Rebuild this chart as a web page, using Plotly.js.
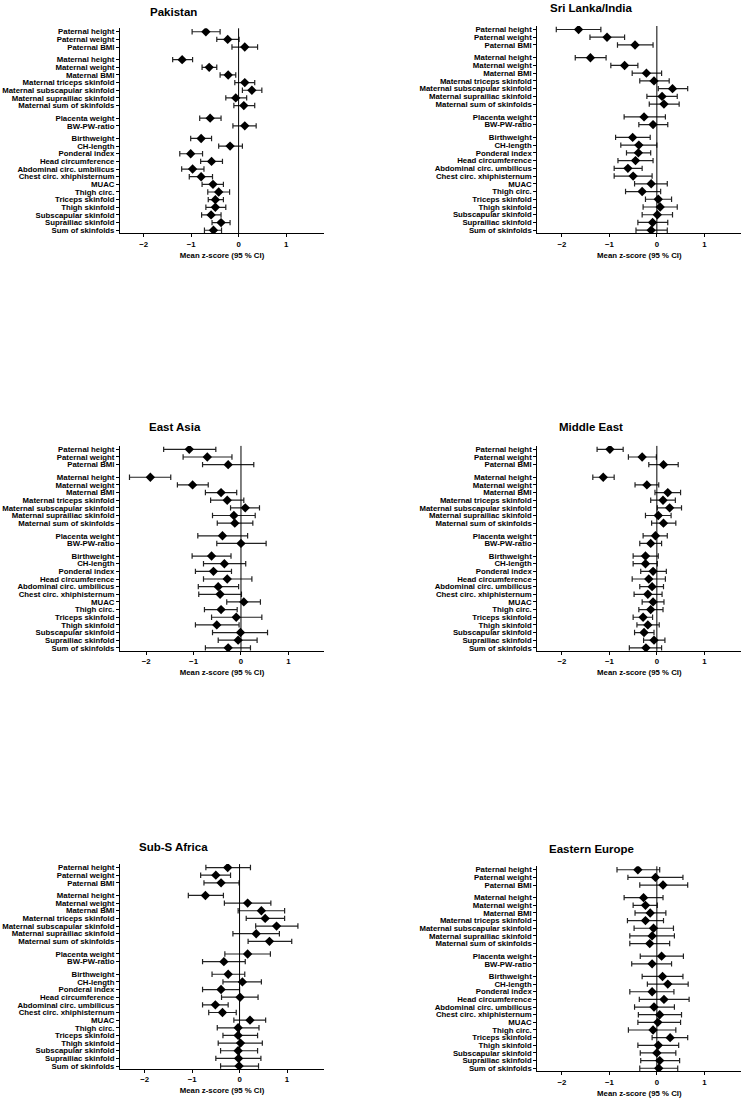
<!DOCTYPE html>
<html><head><meta charset="utf-8">
<script src="https://cdn.plot.ly/plotly-3.0.1.min.js"></script>
<style>html,body{margin:0;padding:0;background:#fff}#chart{width:748px;height:1101px}</style>
</head><body><div id="chart"></div>
<script>
const labels = ["Paternal height","Paternal weight","Paternal BMI",
  "Maternal height","Maternal weight","Maternal BMI","Maternal triceps skinfold","Maternal subscapular skinfold","Maternal suprailiac skinfold","Maternal sum of skinfolds",
  "Placenta weight","BW-PW-ratio",
  "Birthweight","CH-length","Ponderal index","Head circumference","Abdominal circ. umbilicus","Chest circ. xhiphisternum","MUAC","Thigh circ.","Triceps skinfold","Thigh skinfold","Subscapular skinfold","Suprailiac skinfold","Sum of skinfolds"];
const groupSizes = [3,7,2,13];
const xTicks = [-2,-1,0,1];
const xTitle = "Mean z-score (95 % CI)";

const regions = ["Pakistan","Sri Lanka/India","East Asia","Middle East","Sub-S Africa","Eastern Europe"];

const pakistanMean = [-0.69,-0.23,0.13, -1.19,-0.62,-0.22,0.13,0.28,-0.06,0.11, -0.60,0.13, -0.79,-0.18,-1.01,-0.57,-0.97,-0.79,-0.54,-0.42,-0.49,-0.49,-0.58,-0.37,-0.53];
const pakistanLow  = [-0.98,-0.46,-0.14, -1.39,-0.77,-0.39,-0.08,0.08,-0.27,-0.10, -0.82,-0.12, -1.01,-0.42,-1.24,-0.80,-1.20,-1.04,-0.77,-0.65,-0.64,-0.69,-0.78,-0.56,-0.72];
const pakistanHigh = [-0.39,0.01,0.40, -0.97,-0.46,-0.06,0.34,0.49,0.17,0.34, -0.37,0.37, -0.57,0.08,-0.76,-0.34,-0.73,-0.55,-0.32,-0.19,-0.32,-0.27,-0.37,-0.18,-0.36];

const sriLankaMean = [-1.65,-1.05,-0.46, -1.40,-0.68,-0.22,-0.06,0.33,0.11,0.15, -0.27,-0.08, -0.51,-0.38,-0.39,-0.45,-0.61,-0.50,-0.12,-0.31,0.03,0.07,0.01,-0.09,-0.12];
const sriLankaLow  = [-2.12,-1.41,-0.83, -1.72,-0.97,-0.52,-0.36,0.03,-0.21,-0.16, -0.69,-0.38, -0.87,-0.76,-0.64,-0.82,-0.90,-0.90,-0.47,-0.66,-0.24,-0.29,-0.31,-0.40,-0.44];
const sriLankaHigh = [-1.18,-0.68,-0.08, -1.07,-0.40,0.10,0.26,0.65,0.43,0.47, 0.18,0.23, -0.14,0.00,-0.13,-0.08,-0.31,-0.10,0.22,0.08,0.31,0.43,0.33,0.23,0.22];

const eastAsiaMean = [-1.09,-0.71,-0.27, -1.91,-1.02,-0.42,-0.29,0.09,-0.15,-0.13, -0.39,0.00, -0.62,-0.35,-0.58,-0.29,-0.48,-0.44,0.06,-0.42,-0.10,-0.51,-0.01,-0.06,-0.27];
const eastAsiaLow  = [-1.63,-1.22,-0.81, -2.35,-1.34,-0.75,-0.64,-0.22,-0.60,-0.50, -0.91,-0.51, -1.03,-0.79,-0.96,-0.79,-0.90,-0.89,-0.30,-0.77,-0.62,-0.96,-0.60,-0.48,-0.75];
const eastAsiaHigh = [-0.53,-0.19,0.27, -1.48,-0.69,-0.09,0.06,0.39,0.30,0.25, 0.14,0.53, -0.21,0.10,-0.20,0.23,-0.05,0.01,0.41,-0.08,0.44,-0.04,0.56,0.34,0.20];

const middleEastMean = [-0.99,-0.31,0.14, -1.13,-0.21,0.23,0.13,0.27,0.03,0.14, -0.03,-0.13, -0.24,-0.24,-0.08,-0.17,-0.10,-0.19,-0.08,-0.13,-0.29,-0.19,-0.27,-0.06,-0.23];
const middleEastLow  = [-1.26,-0.60,-0.17, -1.35,-0.46,-0.04,-0.13,0.01,-0.24,-0.11, -0.29,-0.36, -0.50,-0.50,-0.34,-0.52,-0.36,-0.48,-0.31,-0.38,-0.50,-0.42,-0.47,-0.28,-0.58];
const middleEastHigh = [-0.71,-0.01,0.45, -0.90,0.04,0.50,0.39,0.52,0.30,0.40, 0.22,0.10, 0.03,0.01,0.20,0.18,0.14,0.11,0.15,0.13,-0.09,0.05,-0.06,0.17,0.10];

const subSaharanMean = [-0.25,-0.50,-0.39, -0.72,0.17,0.46,0.54,0.78,0.35,0.63, 0.17,-0.33, -0.24,0.06,-0.39,0.01,-0.51,-0.36,0.22,-0.03,-0.03,0.02,-0.03,-0.02,-0.01];
const subSaharanLow  = [-0.71,-0.82,-0.75, -1.08,-0.32,-0.03,0.14,0.34,-0.14,0.18, -0.31,-0.78, -0.58,-0.35,-0.78,-0.38,-0.78,-0.65,-0.12,-0.47,-0.35,-0.45,-0.40,-0.50,-0.40];
const subSaharanHigh = [0.23,-0.19,-0.01, -0.34,0.66,0.95,0.95,1.23,0.84,1.10, 0.65,0.12, 0.11,0.46,0.00,0.39,-0.24,-0.07,0.55,0.41,0.38,0.48,0.38,0.45,0.40];

const easternEuropeMean = [-0.40,-0.03,0.13, -0.28,-0.24,-0.14,-0.24,-0.07,-0.10,-0.15, 0.10,-0.10, 0.12,0.23,-0.10,0.15,-0.06,0.06,0.02,-0.08,0.28,0.03,0.00,0.06,0.04];
const easternEuropeLow  = [-0.84,-0.61,-0.36, -0.69,-0.50,-0.46,-0.62,-0.48,-0.57,-0.57, -0.35,-0.53, -0.31,-0.20,-0.57,-0.37,-0.47,-0.39,-0.40,-0.60,-0.10,-0.40,-0.35,-0.34,-0.36];
const easternEuropeHigh = [0.06,0.55,0.65, 0.13,0.01,0.19,0.14,0.35,0.37,0.27, 0.56,0.31, 0.55,0.66,0.36,0.68,0.37,0.52,0.50,0.40,0.65,0.46,0.40,0.48,0.44];

const means = [pakistanMean, sriLankaMean, eastAsiaMean, middleEastMean, subSaharanMean, easternEuropeMean];
const lows = [pakistanLow, sriLankaLow, eastAsiaLow, middleEastLow, subSaharanLow, easternEuropeLow];
const highs = [pakistanHigh, sriLankaHigh, eastAsiaHigh, middleEastHigh, subSaharanHigh, easternEuropeHigh];

// layout geometry (pixels)
const W = 748, H = 1101;
const gap = 1.65;
const rowPos = [];
{ let p = 0; groupSizes.forEach((n) => { for (let i = 0; i < n; i++) { rowPos.push(p); p += 1; } p += gap - 1; }); }
const yLast = rowPos[rowPos.length - 1];
const yRange = [yLast + 0.4, -0.45];

const geom = [
  {left:120, top:28.3, bottom:233.3, xr:[-2.5,1.8], tx:173, ty:12.3},
  {left:537.3, top:26.0, bottom:233.3, xr:[-2.52,1.78], tx:591, ty:7.5},
  {left:120, top:445.9, bottom:650.9, xr:[-2.55,1.75], tx:175, ty:427.3},
  {left:537.3, top:445.9, bottom:650.9, xr:[-2.52,1.78], tx:591, ty:427.3},
  {left:120, top:864.1, bottom:1069.1, xr:[-2.52,1.78], tx:173, ty:847.3},
  {left:537.3, top:866.3, bottom:1071.3, xr:[-2.52,1.78], tx:591, ty:849}
];
const plotW = 204;

const tickFont = {family:"Liberation Sans, Arial, sans-serif", size:7.8, color:"#000", weight:700};
const data = [], shapes = [], annotations = [];
const layout = {width:W, height:H, margin:{l:0,r:0,t:0,b:0}, paper_bgcolor:"#fff", plot_bgcolor:"#fff", showlegend:false};

regions.forEach((name, k) => {
  const g = geom[k];
  const sfx = k === 0 ? "" : String(k + 1);
  const m = means[k];
  data.push({
    type:"scatter", mode:"markers", x:m, y:rowPos,
    xaxis:"x" + sfx, yaxis:"y" + sfx,
    marker:{symbol:"diamond", size:7.2, color:"#000"},
    error_x:{type:"data", symmetric:false,
      array:m.map((v,i)=>highs[k][i]-v), arrayminus:m.map((v,i)=>v-lows[k][i]),
      color:"#222", thickness:1.2, width:2.7},
    hoverinfo:"skip"
  });
  layout["xaxis" + sfx] = {
    domain:[g.left / W, (g.left + plotW) / W], anchor:"y" + sfx,
    range:g.xr, tickvals:xTicks, ticks:"outside", ticklen:3, tickwidth:1, tickcolor:"#000",
    showline:true, linecolor:"#000", linewidth:1, showgrid:false, zeroline:false,
    tickfont:tickFont, title:{text:xTitle, font:tickFont, standoff:4}, fixedrange:true
  };
  layout["yaxis" + sfx] = {
    domain:[1 - g.bottom / H, 1 - g.top / H], anchor:"x" + sfx,
    range:yRange, tickvals:rowPos, ticktext:labels, ticks:"outside", ticklen:3, tickwidth:1, tickcolor:"#000",
    showline:true, linecolor:"#000", linewidth:1, showgrid:false, zeroline:false,
    tickfont:tickFont, fixedrange:true
  };
  shapes.push({type:"line", xref:"x" + sfx, yref:"y" + sfx + " domain", x0:0, x1:0, y0:0, y1:1, line:{color:"#000", width:1}});
  annotations.push({text:name, xref:"paper", yref:"paper", x:g.tx / W, y:1 - g.ty / H, xanchor:"center", yanchor:"middle",
    showarrow:false, font:{family:"Liberation Sans, Arial, sans-serif", size:11.5, color:"#000", weight:700}});
});
layout.shapes = shapes;
layout.annotations = annotations;
Plotly.newPlot("chart", data, layout, {displayModeBar:false, staticPlot:true});
</script>
</body></html>
